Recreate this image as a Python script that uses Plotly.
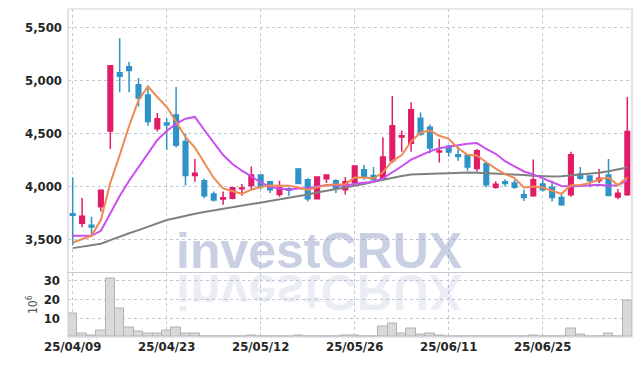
import plotly.graph_objects as go

dates = [
    "25/04/09", "25/04/10", "25/04/11", "25/04/14", "25/04/15", "25/04/16", "25/04/17", "25/04/18",
    "25/04/21", "25/04/22", "25/04/23", "25/04/24", "25/04/25", "25/04/28", "25/04/29", "25/04/30",
    "25/05/02", "25/05/07", "25/05/08", "25/05/09", "25/05/12", "25/05/13", "25/05/14", "25/05/15",
    "25/05/16", "25/05/19", "25/05/20", "25/05/21", "25/05/22", "25/05/23", "25/05/26", "25/05/27",
    "25/05/28", "25/05/29", "25/05/30", "25/06/02", "25/06/04", "25/06/05", "25/06/09", "25/06/10",
    "25/06/11", "25/06/12", "25/06/13", "25/06/16", "25/06/17", "25/06/18", "25/06/19", "25/06/20",
    "25/06/23", "25/06/24", "25/06/25", "25/06/26", "25/06/27", "25/06/30", "25/07/01", "25/07/02",
    "25/07/03", "25/07/04", "25/07/07", "25/07/08",
]

open_ = [3740, 3650, 3630, 3805, 4520, 5070, 5125, 4955, 4860, 4540,
         4595, 4670, 4420, 4100, 4050, 3925, 3878, 3885, 3975, 4005,
         4105, 4040, 3920, 3975, 4160, 4060, 3880, 4070, 4050, 3965,
         4035, 4155, 4100, 4075, 4240, 4462, 4405, 4640, 4555, 4322,
         4375, 4295, 4290, 4165, 4210, 3988, 4040, 4030, 3918, 3910,
         4020, 3990, 3893, 3918, 4115, 4095, 4053, 4105, 3897, 3918]
high = [4080, 3887, 3710, 3965, 5140, 5395, 5170, 5020, 4940, 4690,
        4640, 4935, 4495, 4255, 4070, 3950, 3950, 3990, 4020, 4185,
        4108, 4050, 4050, 3990, 4170, 4075, 4090, 4108, 4065, 4085,
        4195, 4200, 4180, 4460, 4850, 4525, 4790, 4695, 4580, 4443,
        4390, 4370, 4295, 4350, 4230, 4045, 4065, 4060, 3965, 4250,
        4060, 4050, 3935, 4325, 4180, 4100, 4160, 4255, 3972, 4840]
low = [3445, 3613, 3530, 3760, 4350, 4885, 4885, 4750, 4570, 4515,
       4340, 4365, 4005, 4040, 3885, 3855, 3825, 3875, 3910, 3965,
       3970, 3935, 3900, 3910, 4020, 3855, 3878, 4030, 3935, 3920,
       4030, 4060, 4045, 4060, 4215, 4325, 4325, 4475, 4310, 4222,
       4280, 4240, 4145, 4138, 3990, 3975, 3995, 3975, 3860, 3900,
       3950, 3855, 3815, 3900, 4060, 3990, 4028, 3910, 3877, 3910]
close = [3725, 3715, 3615, 3960, 5135, 5035, 5090, 4830, 4610, 4635,
         4575, 4385, 4100, 4120, 3910, 3870, 3890, 3985, 3982, 4105,
         3995, 3965, 3990, 3960, 4025, 3880, 4085, 4105, 3980, 4040,
         4190, 4085, 4060, 4275, 4570, 4475, 4720, 4490, 4360, 4332,
         4322, 4280, 4180, 4333, 4012, 4018, 4025, 3988, 3893, 4060,
         3965, 3893, 3825, 4295, 4075, 4050, 4075, 3912, 3933, 4515]

ma5 = [3468, 3503, 3531, 3682, 4030, 4292, 4567, 4810, 4940, 4840,
       4748, 4607, 4461, 4363, 4218, 4077, 3978, 3955, 3927, 3966,
       3991, 4006, 4007, 4003, 3987, 3964, 3988, 4011, 4015, 4018,
       4080, 4080, 4071, 4130, 4236, 4293, 4420, 4506, 4523, 4475,
       4445, 4357, 4295, 4289, 4225, 4165, 4114, 4075, 3987, 3997,
       3986, 3960, 3927, 4008, 4011, 4028, 4064, 4081, 4009, 4080]
ma10 = [3531, 3531, 3531, 3578, 3743, 3906, 4050, 4182, 4314, 4435,
        4520, 4587, 4636, 4652, 4529, 4413, 4293, 4208, 4145, 4092,
        4034, 3992, 3981, 3965, 3977, 3978, 3997, 4009, 4009, 4003,
        4022, 4034, 4041, 4073, 4127, 4187, 4250, 4289, 4327, 4356,
        4369, 4388, 4400, 4406, 4350, 4305, 4235, 4185, 4138, 4111,
        4075, 4037, 4001, 3997, 4004, 4007, 4012, 4004, 4008, 4054]
ma60 = [3415, 3428, 3440, 3456, 3490, 3525, 3555, 3585, 3615, 3650,
        3680, 3700, 3722, 3740, 3755, 3770, 3782, 3795, 3810, 3825,
        3840, 3855, 3870, 3885, 3900, 3920, 3940, 3955, 3970, 3985,
        4000, 4020, 4040, 4060, 4080, 4095, 4110, 4115, 4115, 4118,
        4122, 4127, 4128, 4125, 4122, 4120, 4115, 4110, 4105, 4098,
        4092, 4090, 4092, 4100, 4108, 4115, 4125, 4140, 4155, 4175]

volume_m = [12.3, 2.1, 1.0, 3.4, 31.2, 15.3, 4.8, 2.8, 1.8, 1.6,
            3.7, 4.8, 1.8, 1.6, 0.5, 0.4, 0.3, 0.3, 0.4, 0.9,
            0.5, 0.3, 0.3, 0.4, 1.0, 0.4, 0.3, 0.3, 0.4, 0.7,
            1.0, 0.5, 0.5, 5.3, 7.1, 2.1, 4.4, 1.1, 1.8, 0.7,
            0.5, 0.5, 0.5, 0.4, 0.3, 0.2, 0.2, 0.2, 0.3, 1.0,
            0.2, 0.2, 0.2, 4.4, 1.2, 0.3, 0.5, 1.8, 0.2, 19.2]

tick_dates = ["25/04/09", "25/04/23", "25/05/12", "25/05/26", "25/06/11", "25/06/25"]
price_ticks = [3500, 4000, 4500, 5000, 5500]
volume_ticks = [10, 20, 30]

UP = "#E31C67"
DOWN = "#2E93C6"
GRID = "#c3c7da"
FONT = "DejaVu Sans Condensed, Liberation Sans Narrow, sans-serif"
SPLIT = 0.1966

fig = go.Figure()

fig.add_trace(go.Candlestick(
    x=dates, open=open_, high=high, low=low, close=close,
    increasing=dict(line=dict(color=UP, width=1.5), fillcolor=UP),
    decreasing=dict(line=dict(color=DOWN, width=1.5), fillcolor=DOWN),
    whiskerwidth=0, xaxis="x", yaxis="y", showlegend=False, hoverinfo="skip",
))
fig.add_trace(go.Scatter(x=dates, y=ma60, mode="lines", line=dict(color="#808080", width=2),
                         xaxis="x", yaxis="y", showlegend=False, hoverinfo="skip"))
fig.add_trace(go.Scatter(x=dates, y=ma10, mode="lines", line=dict(color="#C94FEF", width=2),
                         xaxis="x", yaxis="y", showlegend=False, hoverinfo="skip"))
fig.add_trace(go.Scatter(x=dates, y=ma5, mode="lines", line=dict(color="#EF8A54", width=2),
                         xaxis="x", yaxis="y", showlegend=False, hoverinfo="skip"))
fig.add_trace(go.Bar(x=dates, y=volume_m, marker=dict(color="#d9d9d9", line=dict(color="#b3b3b3", width=1)),
                     xaxis="x2", yaxis="y2", showlegend=False, hoverinfo="skip"))

axis_common = dict(showgrid=True, gridcolor=GRID, griddash="dot", gridwidth=1, zeroline=False,
                   showline=False, ticks="", automargin=False,
                   tickfont=dict(family=FONT, size=13, color="#262626", weight="bold"))

fig.update_layout(
    width=642, height=366,
    margin=dict(l=68, r=10, t=9, b=29, autoexpand=False),
    paper_bgcolor="white", plot_bgcolor="white",
    bargap=0,
    xaxis=dict(type="category", domain=[0, 1], anchor="y", range=[-0.5, 59.5],
               tickvals=tick_dates, ticktext=tick_dates, showticklabels=False,
               rangeslider=dict(visible=False), **axis_common),
    xaxis2=dict(type="category", domain=[0, 1], anchor="y2", matches="x", range=[-0.5, 59.5],
                tickvals=tick_dates, ticktext=tick_dates, showticklabels=True, **axis_common),
    yaxis=dict(domain=[SPLIT, 1], range=[3185, 5670], tickvals=price_ticks, tickformat=",",
               ticklabelstandoff=5, **axis_common),
    yaxis2=dict(domain=[0, SPLIT], range=[0, 34.2], tickvals=volume_ticks, ticklabelstandoff=7,
                title=dict(text="10<sup>6</sup>", font=dict(family=FONT, size=12, color="#555"), standoff=3),
                **axis_common),
    shapes=[
        dict(type="rect", xref="paper", yref="paper", x0=0, x1=1, y0=0, y1=1,
             line=dict(color="#d0d1d9", width=1.2), layer="above"),
        dict(type="line", xref="paper", yref="paper", x0=0, x1=1, y0=SPLIT, y1=SPLIT,
             line=dict(color="#c8c9d0", width=1.2), layer="above"),
    ],
    annotations=[
        dict(text="investCRUX", xref="paper", yref="paper", x=0.445, y=0.262, showarrow=False,
             font=dict(family="Liberation Sans, Arial, sans-serif", size=50, weight="bold",
                       color="rgba(150,162,200,0.5)"),
             xanchor="center", yanchor="middle"),
        dict(text="investCRUX", xref="paper", yref="paper", x=0.445, y=0.138, showarrow=False,
             font=dict(family="Liberation Sans, Arial, sans-serif", size=50, weight="bold",
                       color="rgba(150,162,200,0.2)"),
             xanchor="center", yanchor="middle"),
    ],
)

post = """
document.body.style.margin = '0';
document.body.style.padding = '0';
var gd = document.getElementById('{plot_id}');
var t = gd.querySelectorAll('.annotation');
if (t.length > 1) {
  var txt = t[1].querySelector('text');
  if (txt) {
    txt.style.transformBox = 'fill-box';
    txt.style.transformOrigin = 'center';
    txt.style.transform = 'scaleY(-1)';
  }
}
"""

fig.write_html("out.html", post_script=post, config={"displayModeBar": False})
